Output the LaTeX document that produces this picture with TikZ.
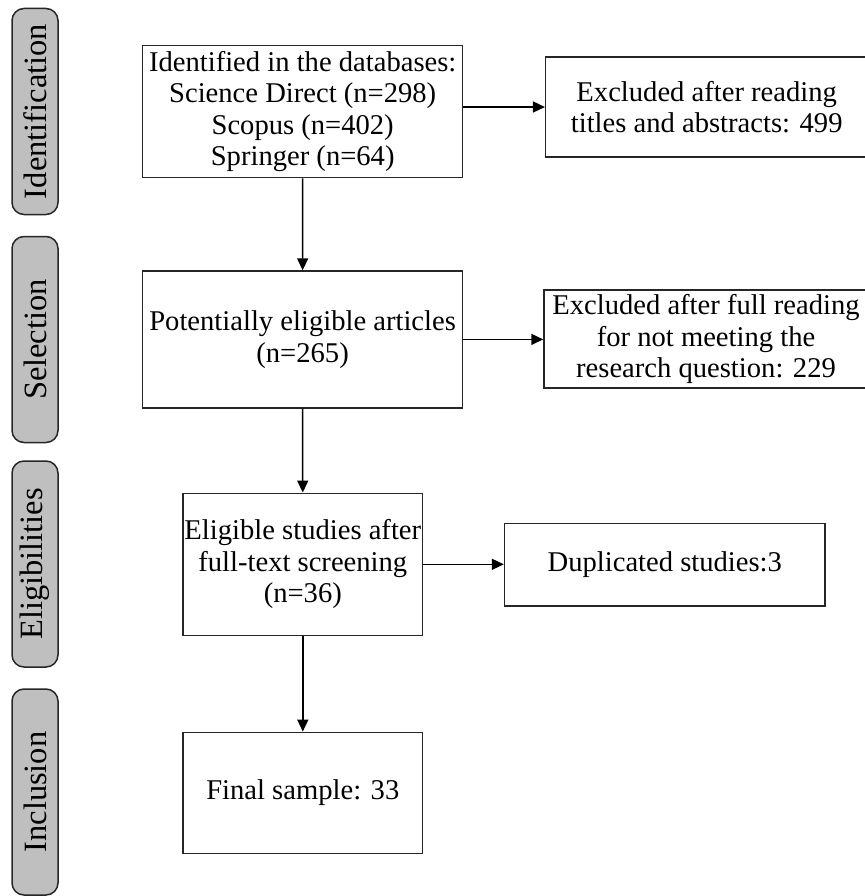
\documentclass[tikz,border=0pt]{standalone}
\usepackage{fontspec}
\setmainfont{Liberation Serif}
\usepackage{tikz}
\usetikzlibrary{arrows.meta,positioning,calc}
\tikzstyle{block} = [rectangle, draw=black!85, line width=1.5pt, align=center, inner sep=0pt, font=\fontsize{28.6}{31.5}\selectfont]
\tikzstyle{stage} = [rectangle, draw=black!85, fill=gray!50, line width=1.5pt, rounded corners=12pt, rotate=90, minimum width=206pt, minimum height=46pt, inner sep=0pt, font=\fontsize{32.5}{36}\selectfont]
\tikzset{edge/.style = {
    >=Stealth,
    -{Triangle[length=12pt, width=11pt]},
    line width=1.5pt,
  }
}

\begin{document}
\begin{tikzpicture}[x=1pt, y=-1pt]
            \useasboundingbox (0,0) rectangle (864,896);
            % stages
            \node[stage] (st1) at (35, 111.5) {Identification};
            \node[stage] (st2) at (35, 339.5) {Selection};
            \node[stage] (st3) at (35, 564) {Eligibilities};
            \node[stage] (st4) at (35, 792) {Inclusion};

            % vertices
            \node[block, minimum width=320pt, minimum height=132pt] (idf) at (302.7, 111.7) {Identified in the databases:\\ Science Direct (n=298)\\ Scopus (n=402)\\ Springer (n=64)};
            \node[block, minimum width=320pt, minimum height=136.7pt] (pot) at (302.6, 339.4) {Potentially eligible articles\\ (n=265)};
            \node[block, minimum width=239.6pt, minimum height=142pt] (elig) at (302.8, 564.3) {Eligible studies after\\ full-text screening\\ (n=36)};
            \node[block, minimum width=239.6pt, minimum height=121pt] (fin) at (302.8, 792.8) {Final sample: 33};

            \node[block, minimum width=322pt, minimum height=100pt] (ex1) at (706.7, 107) {Excluded after reading\\ titles and abstracts: 499};
            \node[block, minimum width=324pt, minimum height=98pt] (ex2) at (706, 339) {Excluded after full reading\\ for not meeting the\\ research question: 229};
            \node[block, minimum width=320.5pt, minimum height=82.7pt] (dup) at (664.8, 564.7) {Duplicated studies:3};

            %edges
            \draw[edge] (idf) to (pot);
            \draw[edge] (pot) to (elig);
            \draw[edge] (elig) to (fin);

            \draw[edge] (idf.east |- ex1) to (ex1);
            \draw[edge] (pot.east) to (pot.east -| ex2.west);
            \draw[edge] (elig.east) to (elig.east -| dup.west);
\end{tikzpicture}
\end{document}
